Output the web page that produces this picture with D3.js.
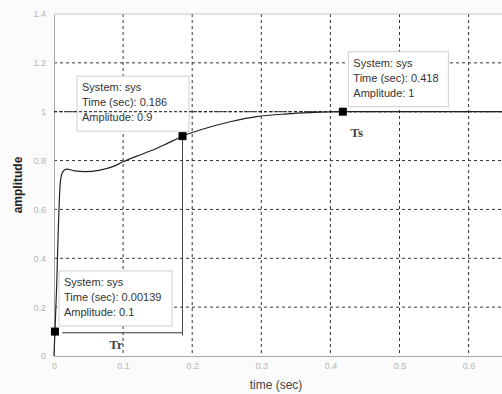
<!DOCTYPE html>
<html>
<head>
<meta charset="utf-8">
<script src="https://cdn.jsdelivr.net/npm/d3@7"></script>
<style>
  body { margin: 0; background: #fbfbfb; }
  svg { display: block; }
</style>
</head>
<body>
<div id="chart"></div>
<script>
// step response samples
var timeVals = [0, 0.00139, 0.004, 0.006, 0.0077, 0.0095, 0.012, 0.018, 0.03, 0.045, 0.065,
                0.085, 0.1, 0.12, 0.14, 0.16, 0.175, 0.186, 0.211, 0.255, 0.293, 0.337, 0.37, 0.418, 0.7];
var ampVals = [0, 0.1, 0.3, 0.5, 0.64, 0.72, 0.75, 0.765, 0.758, 0.755, 0.76,
               0.775, 0.795, 0.818, 0.84, 0.865, 0.885, 0.9, 0.925, 0.959, 0.98, 0.991, 0.996, 1, 1];

var xTicks = [0, 0.1, 0.2, 0.3, 0.4, 0.5, 0.6];
var yTicks = [0, 0.2, 0.4, 0.6, 0.8, 1, 1.2, 1.4];
var steadyState = 1;

// data tips
var tipTimes = [0.00139, 0.186, 0.418];
var tipAmps = [0.1, 0.9, 1];
var tipLabels = ["0.00139", "0.186", "0.418"];
var tipAmpLabels = ["0.1", "0.9", "1"];

// rise-time bracket and labels
var bracketTimes = [0.012, 0.186];
var bracketAmp = 0.095;
var bracketBottom = 0.085;

var width = 502;
var height = 394;
var plotLeft = 54, plotTop = 14, plotBottom = 356;

var svg = d3.select("#chart")
  .append("svg")
  .attr("width", width)
  .attr("height", height);

var xScale = d3.scaleLinear().domain([0, 0.7]).range([plotLeft, 537.7]);
var yScale = d3.scaleLinear().domain([0, 1.4]).range([plotBottom, plotTop]);

// plot background
svg.append("rect")
  .attr("x", plotLeft).attr("y", plotTop)
  .attr("width", width - plotLeft).attr("height", plotBottom - plotTop)
  .attr("fill", "#ffffff");

// grid
svg.selectAll("line.vgrid")
  .data(xTicks.slice(1))
  .enter().append("line")
  .attr("x1", function(d) { return xScale(d); })
  .attr("x2", function(d) { return xScale(d); })
  .attr("y1", plotTop).attr("y2", plotBottom)
  .attr("stroke", "#333").attr("stroke-width", 1)
  .attr("stroke-dasharray", "3,3");

svg.selectAll("line.hgrid")
  .data(yTicks.slice(1, -1))
  .enter().append("line")
  .attr("x1", plotLeft).attr("x2", width)
  .attr("y1", function(d) { return yScale(d); })
  .attr("y2", function(d) { return yScale(d); })
  .attr("stroke", "#333").attr("stroke-width", 1)
  .attr("stroke-dasharray", "3,3");

// axes
var fmt = d3.format("~g");
var xAxis = svg.append("g")
  .attr("transform", "translate(0," + plotBottom + ")")
  .call(d3.axisBottom(xScale).tickValues(xTicks).tickSize(0).tickPadding(7).tickFormat(fmt));
var yAxis = svg.append("g")
  .attr("transform", "translate(" + plotLeft + ",0)")
  .call(d3.axisLeft(yScale).tickValues(yTicks).tickSize(0).tickPadding(8).tickFormat(fmt));

[xAxis, yAxis].forEach(function(g) {
  g.select(".domain").attr("stroke", "#a8a8a8");
  g.selectAll("text")
    .attr("fill", "#b4b4b4")
    .attr("font-family", "Liberation Sans, Arial, sans-serif")
    .attr("font-size", "9px");
});

svg.append("line")
  .attr("x1", plotLeft).attr("x2", width)
  .attr("y1", plotTop).attr("y2", plotTop)
  .attr("stroke", "#c4c4c4");

// data tip boxes
var boxOffsets = [[4, -60.6, 113], [-105.5, -60, 112], [5.5, -60, 100]];

var tips = svg.selectAll("g.tip")
  .data(tipTimes)
  .enter().append("g")
  .attr("transform", function(d, i) {
    return "translate(" + (xScale(d) + boxOffsets[i][0]) + "," + (yScale(tipAmps[i]) + boxOffsets[i][1]) + ")";
  });

tips.append("rect")
  .attr("width", function(d, i) { return boxOffsets[i][2]; })
  .attr("height", 55)
  .attr("fill", "#ffffff")
  .attr("stroke", "#cfcfcf");

// steady-state line
svg.append("line")
  .attr("x1", plotLeft).attr("x2", width)
  .attr("y1", yScale(steadyState)).attr("y2", yScale(steadyState))
  .attr("stroke", "#111").attr("stroke-dasharray", "3,2");

tips.each(function(d, i) {
  var t = d3.select(this);
  var lines = ["System: sys", "Time (sec): " + tipLabels[i], "Amplitude: " + tipAmpLabels[i]];
  t.selectAll("text")
    .data(lines)
    .enter().append("text")
    .attr("x", 5)
    .attr("y", function(s, j) { return 15 + j * 15; })
    .text(function(s) { return s; })
    .attr("font-family", "Liberation Sans, Arial, sans-serif")
    .attr("font-size", "11px")
    .attr("fill", "#333");
});

// rise time bracket
svg.append("line")
  .attr("x1", xScale(bracketTimes[0])).attr("x2", xScale(bracketTimes[1]))
  .attr("y1", yScale(bracketAmp)).attr("y2", yScale(bracketAmp))
  .attr("stroke", "#333");
svg.append("line")
  .attr("x1", xScale(bracketTimes[1])).attr("x2", xScale(bracketTimes[1]))
  .attr("y1", yScale(tipAmps[1])).attr("y2", yScale(bracketBottom))
  .attr("stroke", "#444");

// response curve
var line = d3.line()
  .x(function(d, i) { return xScale(timeVals[i]); })
  .y(function(d) { return yScale(d); })
  .curve(d3.curveMonotoneX);

svg.append("path")
  .datum(ampVals)
  .attr("d", line)
  .attr("fill", "none")
  .attr("stroke", "#222")
  .attr("stroke-width", 1.2);

// markers
svg.selectAll("rect.marker")
  .data(tipTimes)
  .enter().append("rect")
  .attr("x", function(d) { return xScale(d) - 4; })
  .attr("y", function(d, i) { return yScale(tipAmps[i]) - 4; })
  .attr("width", 8).attr("height", 8)
  .attr("fill", "#000");

// Tr / Ts labels
svg.append("text")
  .attr("x", xScale(0.08)).attr("y", 349)
  .text("Tr")
  .attr("font-family", "Liberation Serif, Times New Roman, serif")
  .attr("font-weight", "bold").attr("font-size", "13px").attr("fill", "#444");
svg.append("text")
  .attr("x", xScale(0.429)).attr("y", 137)
  .text("Ts")
  .attr("font-family", "Liberation Serif, Times New Roman, serif")
  .attr("font-weight", "bold").attr("font-size", "13px").attr("fill", "#444");

// axis titles
svg.append("text")
  .attr("transform", "translate(22," + ((plotTop + plotBottom) / 2) + ") rotate(-90)")
  .attr("text-anchor", "middle")
  .text("amplitude")
  .attr("font-family", "Liberation Sans, Arial, sans-serif")
  .attr("font-weight", "bold").attr("font-size", "12px").attr("fill", "#222");

svg.append("text")
  .attr("x", 276).attr("y", 389)
  .attr("text-anchor", "middle")
  .text("time (sec)")
  .attr("font-family", "Liberation Sans, Arial, sans-serif")
  .attr("font-size", "12px").attr("fill", "#444");
</script>
</body>
</html>
